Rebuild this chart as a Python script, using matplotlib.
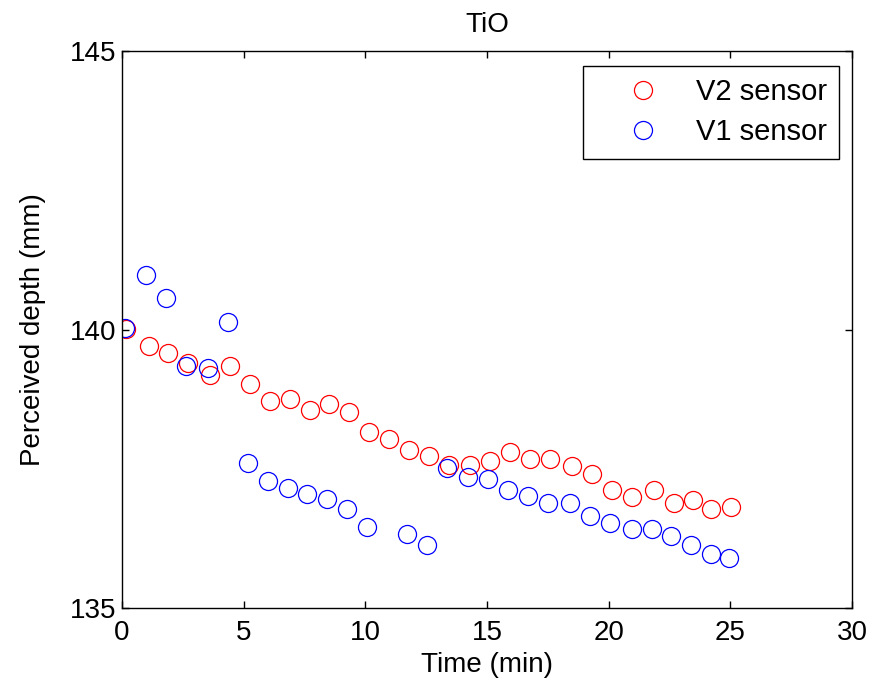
import numpy as np
import matplotlib
matplotlib.use("Agg")
import matplotlib.pyplot as plt

plt.rcParams['font.family'] = ['Liberation Sans', 'DejaVu Sans']

# V2 sensor (red)
t_v2 = [0.15, 1.10, 1.90, 2.73, 3.63, 4.44, 5.27, 6.08, 6.89, 7.71, 8.52, 9.34,
        10.15, 10.97, 11.80, 12.62, 13.43, 14.32, 15.14, 15.96, 16.78, 17.59,
        18.51, 19.32, 20.14, 20.95, 21.85, 22.68, 23.48, 24.22, 25.03]
d_v2 = [140.01, 139.70, 139.58, 139.39, 139.18, 139.34, 139.03, 138.71, 138.75,
        138.55, 138.67, 138.51, 138.16, 138.04, 137.84, 137.72, 137.56, 137.56,
        137.64, 137.80, 137.68, 137.68, 137.55, 137.40, 137.12, 137.00, 137.12,
        136.88, 136.93, 136.77, 136.81]

# V1 sensor (blue)
t_v1 = [0.12, 1.00, 1.82, 2.64, 3.52, 4.36, 5.17, 5.99, 6.81, 7.62, 8.44, 9.25,
        10.07, 11.70, 12.52, 13.35, 14.23, 15.06, 15.88, 16.70, 17.51, 18.40,
        19.22, 20.05, 20.95, 21.77, 22.58, 23.40, 24.21, 24.94]
d_v1 = [140.02, 140.97, 140.57, 139.35, 139.30, 140.13, 137.60, 137.28, 137.16,
        137.05, 136.96, 136.77, 136.45, 136.33, 136.14, 137.52, 137.36, 137.32,
        137.12, 137.01, 136.89, 136.89, 136.65, 136.53, 136.41, 136.41, 136.29,
        136.13, 135.97, 135.89]

fs = 20

fig = plt.figure(figsize=(8.85, 6.89), dpi=100)
ax = fig.add_axes([122/885, 1-608/689, 730/885, 557/689])

ax.plot(t_v2, d_v2, 'o', mfc='none', mec='red', ms=13, mew=0.9, label='V2 sensor')
ax.plot(t_v1, d_v1, 'o', mfc='none', mec='blue', ms=13, mew=0.9, label='V1 sensor')

ax.set_xlim(0, 30)
ax.set_ylim(135, 145)
ax.set_xticks([0, 5, 10, 15, 20, 25, 30])
ax.set_yticks([135, 140, 145])
ax.tick_params(direction='in', length=5, width=1, top=True, right=True,
               labelsize=fs)
ax.tick_params(axis='x', pad=9)
ax.tick_params(axis='y', pad=4)
for s in ax.spines.values():
    s.set_linewidth(1.0)

ax.set_xlabel('Time (min)', fontsize=fs, labelpad=4)
ax.set_ylabel('Perceived depth (mm)', fontsize=fs, labelpad=17)
ax.set_title('TiO', fontsize=fs, pad=14)

leg = ax.legend(loc='upper right', bbox_to_anchor=(839/885, 1-66/689),
                bbox_transform=fig.transFigure, fontsize=21, fancybox=False,
                framealpha=1, edgecolor='black', borderpad=0.42,
                handlelength=3.3, handletextpad=0.15, labelspacing=0.42,
                borderaxespad=0)
leg.get_frame().set_linewidth(1.0)

fig.savefig('out.png', dpi=100)
